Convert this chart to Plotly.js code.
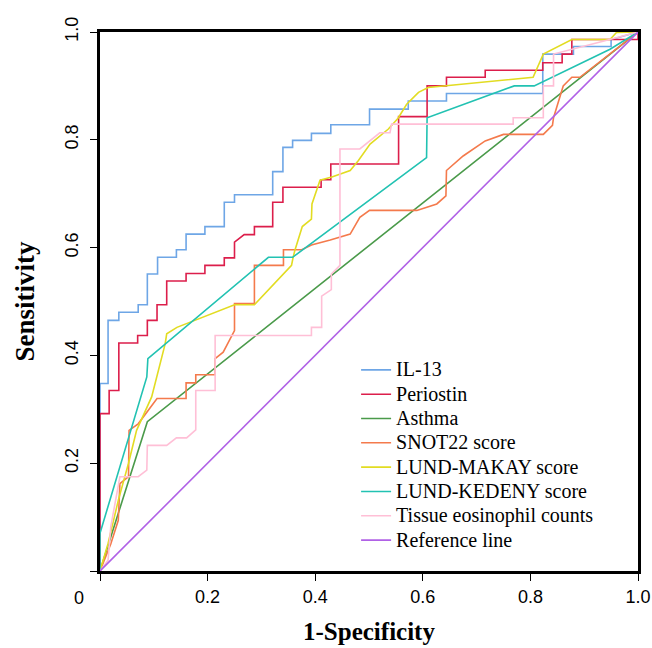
<!DOCTYPE html>
<html>
<head>
<meta charset="utf-8">
<script src="https://cdn.plot.ly/plotly-3.0.1.min.js"></script>
<style>
html,body{margin:0;padding:0;background:#fff;}
.legendtext{font-size:20px !important;}
</style>
</head>
<body>
<div id="chart" style="width:652px;height:648px;"></div>
<script>
// ROC curves: x = 1-Specificity, y = Sensitivity
const il13X = [0,0,0.015,0.015,0.035,0.035,0.071,0.071,0.088,0.088,0.107,0.107,0.142,0.142,0.160,0.160,0.195,0.195,0.231,0.231,0.250,0.250,0.321,0.321,0.340,0.340,0.358,0.358,0.393,0.393,0.429,0.429,0.501,0.501,0.573,0.573,0.644,0.644,0.823,0.823,0.880,0.880,0.950,0.950,1.0];
const il13Y = [0,0.348,0.348,0.465,0.465,0.480,0.480,0.494,0.494,0.551,0.551,0.582,0.582,0.596,0.596,0.625,0.625,0.639,0.639,0.684,0.684,0.698,0.698,0.741,0.741,0.786,0.786,0.799,0.799,0.812,0.812,0.828,0.828,0.857,0.857,0.872,0.872,0.886,0.886,0.959,0.959,0.973,0.973,0.986,1.0];

const periostinX = [0,0,0.017,0.017,0.035,0.035,0.070,0.070,0.088,0.088,0.106,0.106,0.124,0.124,0.160,0.160,0.195,0.195,0.231,0.231,0.250,0.250,0.268,0.287,0.287,0.321,0.321,0.340,0.340,0.411,0.411,0.429,0.429,0.555,0.555,0.608,0.608,0.644,0.644,0.716,0.716,0.823,0.823,0.859,0.859,0.877,0.877,1.0,1.0];
const periostinY = [0,0.292,0.292,0.335,0.335,0.423,0.423,0.437,0.437,0.465,0.465,0.494,0.494,0.538,0.538,0.552,0.552,0.567,0.567,0.581,0.581,0.610,0.624,0.624,0.639,0.639,0.684,0.684,0.712,0.712,0.726,0.726,0.755,0.755,0.843,0.843,0.900,0.900,0.916,0.916,0.929,0.929,0.943,0.943,0.959,0.959,0.986,0.986,1.0];

const asthmaX = [0,0.088,1.0];
const asthmaY = [0,0.277,1.0];

const snotX = [0,0.020,0.034,0.037,0.053,0.054,0.071,0.087,0.106,0.160,0.160,0.178,0.178,0.214,0.214,0.229,0.250,0.250,0.287,0.287,0.341,0.341,0.375,0.393,0.428,0.465,0.483,0.501,0.589,0.626,0.643,0.644,0.675,0.716,0.750,0.824,0.841,0.843,0.861,0.877,0.892,1.0];
const snotY = [0,0.050,0.094,0.162,0.175,0.261,0.273,0.295,0.320,0.320,0.349,0.349,0.364,0.364,0.394,0.406,0.446,0.496,0.496,0.567,0.567,0.596,0.596,0.605,0.614,0.625,0.656,0.669,0.669,0.681,0.696,0.743,0.770,0.798,0.810,0.810,0.827,0.841,0.900,0.916,0.916,1.0];

const makayX = [0,0.015,0.034,0.053,0.068,0.096,0.121,0.124,0.143,0.177,0.250,0.287,0.356,0.359,0.362,0.376,0.393,0.394,0.409,0.431,0.465,0.480,0.502,0.536,0.554,0.570,0.592,0.610,0.805,0.824,0.877,0.948,0.960,1.0];
const makayY = [0,0.051,0.131,0.200,0.261,0.323,0.421,0.440,0.452,0.465,0.494,0.494,0.567,0.582,0.594,0.639,0.653,0.681,0.725,0.731,0.743,0.761,0.792,0.820,0.840,0.866,0.888,0.897,0.916,0.959,0.986,0.986,0.999,1.0];

const kedenyX = [0,0,0.087,0.089,0.313,0.358,0.607,0.608,0.770,0.807,0.948,1.0];
const kedenyY = [0,0.070,0.360,0.394,0.582,0.582,0.767,0.841,0.900,0.900,0.968,1.0];

const tissueX = [0,0.015,0.020,0.037,0.071,0.087,0.088,0.124,0.142,0.161,0.178,0.178,0.214,0.214,0.393,0.393,0.412,0.412,0.430,0.430,0.446,0.446,0.483,0.502,0.520,0.539,0.542,0.768,0.768,0.824,0.824,0.843,0.843,0.935,1.0];
const tissueY = [0,0.020,0.082,0.175,0.175,0.187,0.233,0.233,0.247,0.247,0.262,0.335,0.335,0.437,0.437,0.452,0.452,0.510,0.522,0.551,0.567,0.783,0.783,0.798,0.813,0.813,0.829,0.829,0.841,0.841,0.900,0.900,0.959,0.983,1.0];

const refX = [0,1];
const refY = [0,1];

const seriesNames = ["IL-13","Periostin","Asthma","SNOT22 score","LUND-MAKAY score","LUND-KEDENY score","Tissue eosinophil counts","Reference line"];
const seriesColors = ["#6EA6E6","#DC1E4B","#4A9A4A","#F47A4C","#E2DC22","#22C2B2","#FFBFD6","#B061E6"];
const xs = [il13X, periostinX, asthmaX, snotX, makayX, kedenyX, tissueX, refX];
const ys = [il13Y, periostinY, asthmaY, snotY, makayY, kedenyY, tissueY, refY];

const tickVals = [0,0.2,0.4,0.6,0.8,1.0];
const tickText = ["","0.2","0.4","0.6","0.8","1.0"];

const traces = seriesNames.map((n,i)=>({
  x: xs[i], y: ys[i], name: n, type: 'scatter', mode: 'lines',
  line: {color: seriesColors[i], width: 1.6}
}));

const layout = {
  width: 652, height: 648,
  margin: {l:100, r:14, t:32, b:77},
  paper_bgcolor: '#fff', plot_bgcolor: '#fff',
  showlegend: true,
  legend: {
    x: 0.476, y: 0.405, xanchor: 'left', yanchor: 'top',
    bgcolor: 'rgba(0,0,0,0)', borderwidth: 0,
    font: {family: 'Liberation Serif, Times New Roman, serif', size: 16.4, color: '#000'},
    tracegroupgap: 0
  },
  xaxis: {
    range: [0,1], tickvals: tickVals, ticktext: tickText,
    showgrid: false, zeroline: false,
    showline: true, linecolor: '#000', linewidth: 3, mirror: true,
    ticks: 'outside', ticklen: 7, tickwidth: 1, tickcolor: '#000',
    tickfont: {family: 'Liberation Sans, Arial, sans-serif', size: 18, color: '#000'},
    title: {text: '1-Specificity', font: {family: 'Liberation Serif, Times New Roman, serif', size: 25, color: '#000', weight: 'bold'}, standoff: 17}
  },
  yaxis: {
    range: [0,1], tickvals: tickVals, ticktext: tickText,
    showgrid: false, zeroline: false,
    showline: true, linecolor: '#000', linewidth: 3, mirror: true,
    ticks: 'outside', ticklen: 7, tickwidth: 1, tickcolor: '#000', tickangle: -90,
    ticklabelstandoff: 5,
    tickfont: {family: 'Liberation Sans, Arial, sans-serif', size: 18, color: '#000'},
    title: {text: 'Sensitivity', font: {family: 'Liberation Serif, Times New Roman, serif', size: 27, color: '#000', weight: 'bold'}, standoff: 20}
  },
  annotations: [{
    text: '0', xref: 'paper', yref: 'paper', x: -0.039, y: -0.05,
    xanchor: 'center', yanchor: 'middle', showarrow: false,
    font: {family: 'Liberation Sans, Arial, sans-serif', size: 18, color: '#000'}
  }]
};

Plotly.newPlot('chart', traces, layout, {displayModeBar: false, staticPlot: true});
</script>
</body>
</html>
